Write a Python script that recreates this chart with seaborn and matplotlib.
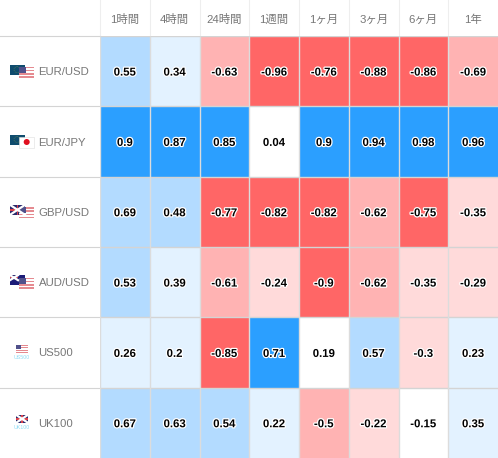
import matplotlib
matplotlib.use("Agg")
import matplotlib.pyplot as plt
import matplotlib.patheffects as pe
from matplotlib.colors import ListedColormap, BoundaryNorm
from matplotlib.patches import Rectangle, Circle
import numpy as np
import pandas as pd
import seaborn as sns

periods = ["1時間", "4時間", "24時間", "1週間", "1ヶ月", "3ヶ月", "6ヶ月", "1年"]
symbols = ["EUR/USD", "EUR/JPY", "GBP/USD", "AUD/USD", "US500", "UK100"]
eur_usd = [0.55, 0.34, -0.63, -0.96, -0.76, -0.88, -0.86, -0.69]
eur_jpy = [0.9, 0.87, 0.85, 0.04, 0.9, 0.94, 0.98, 0.96]
gbp_usd = [0.69, 0.48, -0.77, -0.82, -0.82, -0.62, -0.75, -0.35]
aud_usd = [0.53, 0.39, -0.61, -0.24, -0.9, -0.62, -0.35, -0.29]
us500 = [0.26, 0.2, -0.85, 0.71, 0.19, 0.57, -0.3, 0.23]
uk100 = [0.67, 0.63, 0.54, 0.22, -0.5, -0.22, -0.15, 0.35]
bounds = [-1.01, -0.7, -0.4, -0.2, 0.2, 0.4, 0.7, 1.01]
colors = ["#FF6666", "#FFB3B3", "#FFDADA", "#FFFFFF", "#E3F2FF", "#B3DBFF", "#2B9FFF"]

W, H = 498, 458
FONT = ["Liberation Sans", "Noto Sans CJK JP", "DejaVu Sans"]
plt.rcParams["font.family"] = FONT

df = pd.DataFrame([eur_usd, eur_jpy, gbp_usd, aud_usd, us500, uk100],
                  index=symbols, columns=periods)

fig = plt.figure(figsize=(W / 100, H / 100), dpi=100, facecolor="white")
ax = fig.add_axes([100 / W, 0, 398 / W, (H - 36) / H])
sns.heatmap(df, ax=ax, cmap=ListedColormap(colors), norm=BoundaryNorm(bounds, len(colors)),
            cbar=False, linewidths=0,
            annot=df.map(lambda v: f"{v:g}"), fmt="",
            annot_kws={"fontsize": 8.2, "fontweight": "bold", "color": "black",
                       "path_effects": [pe.withStroke(linewidth=1.8, foreground="white")]})
for t in ax.texts:
    px, py = t.get_position()
    t.set_position((px, py + 0.02))
ax.hlines(range(0, len(symbols)), 0, len(periods), color="#D4D4D4", lw=1.0, zorder=2)
ax.vlines(range(0, len(periods)), 0, len(symbols), color="#DCDCDC", lw=1.0, zorder=2)
ax.xaxis.tick_top()
ax.set_xticklabels(periods, rotation=0, fontsize=8.2, color="#777777")
ax.tick_params(axis="both", length=0)
ax.tick_params(axis="x", pad=8)
ax.set_yticks([])
ax.set_xlabel("")
ax.set_ylabel("")
for s in ax.spines.values():
    s.set_visible(False)

ov = fig.add_axes([0, 0, 1, 1], zorder=-1)
ov.set_xlim(0, W)
ov.set_ylim(H, 0)
ov.axis("off")
top = fig.add_axes([0, 0, 1, 1], zorder=5)
top.set_xlim(0, W)
top.set_ylim(H, 0)
top.axis("off")

row_h = (H - 36) / len(symbols)
col_w = 398 / len(periods)
for i in range(len(periods)):
    ov.plot([100 + i * col_w] * 2, [0, 36], color="#EEEEEE", lw=0.8)
for i in range(len(symbols)):
    ov.plot([0, 100], [36 + i * row_h] * 2, color="#D4D4D4", lw=0.8)


def us_flag(x, y, w, h):
    top.add_patch(Rectangle((x, y), w, h, fc="white", ec="none"))
    n = 7
    for k in range(0, n, 2):
        top.add_patch(Rectangle((x, y + k * h / n), w, h / n, fc="#E58A90", ec="none"))
    top.add_patch(Rectangle((x, y), w * 0.45, h * 0.55, fc="#50508A", ec="none"))


def eu_flag(x, y):
    top.add_patch(Rectangle((x, y), 15, 10, fc="#0F4C6E", ec="none"))
    top.add_patch(Circle((x + 7, y + 5), 3, fc="none", ec="#6A8A50", lw=0.5, ls=":"))


def uk_flag(x, y, w, h):
    top.add_patch(Rectangle((x, y), w, h, fc="#2A2A6E", ec="none"))
    top.plot([x, x + w], [y, y + h], color="white", lw=1.6)
    top.plot([x, x + w], [y + h, y], color="white", lw=1.6)
    top.add_patch(Rectangle((x, y + h * 0.4), w, h * 0.2, fc="#D9404A", ec="none"))
    top.add_patch(Rectangle((x + w * 0.44, y), w * 0.12, h, fc="#D9404A", ec="none"))


for i, name in enumerate(symbols):
    cy = 36 + (i + 0.5) * row_h
    top.text(38.5, cy + 1, name, fontsize=8.2, color="#777777", va="center", ha="left")
    if i == 0:
        eu_flag(10, cy - 6.5); us_flag(19, cy - 4.5, 15, 11)
    elif i == 1:
        eu_flag(10, cy - 7)
        top.add_patch(Rectangle((19, cy - 5), 15, 11, fc="white", ec="#DDDDDD", lw=0.4))
        top.add_patch(Circle((26.7, cy + 0.5), 3, fc="#E01020", ec="none"))
    elif i == 2:
        uk_flag(10, cy - 7, 15, 10); us_flag(19, cy - 4.5, 15, 11)
    elif i == 3:
        top.add_patch(Rectangle((10, cy - 7), 15, 10, fc="#1C1C78", ec="none"))
        uk_flag(10, cy - 7, 8, 5)
        us_flag(19, cy - 4.5, 15, 11)
    elif i == 4:
        us_flag(16, cy - 7.5, 12, 8)
        top.text(22, cy + 5, "US500", fontsize=3.8, color="#8FDCF5", ha="center", va="center")
    else:
        uk_flag(16, cy - 8, 12, 8)
        top.text(22, cy + 4.5, "UK100", fontsize=3.8, color="#8FDCF5", ha="center", va="center")

fig.savefig("out.png", dpi=100)
